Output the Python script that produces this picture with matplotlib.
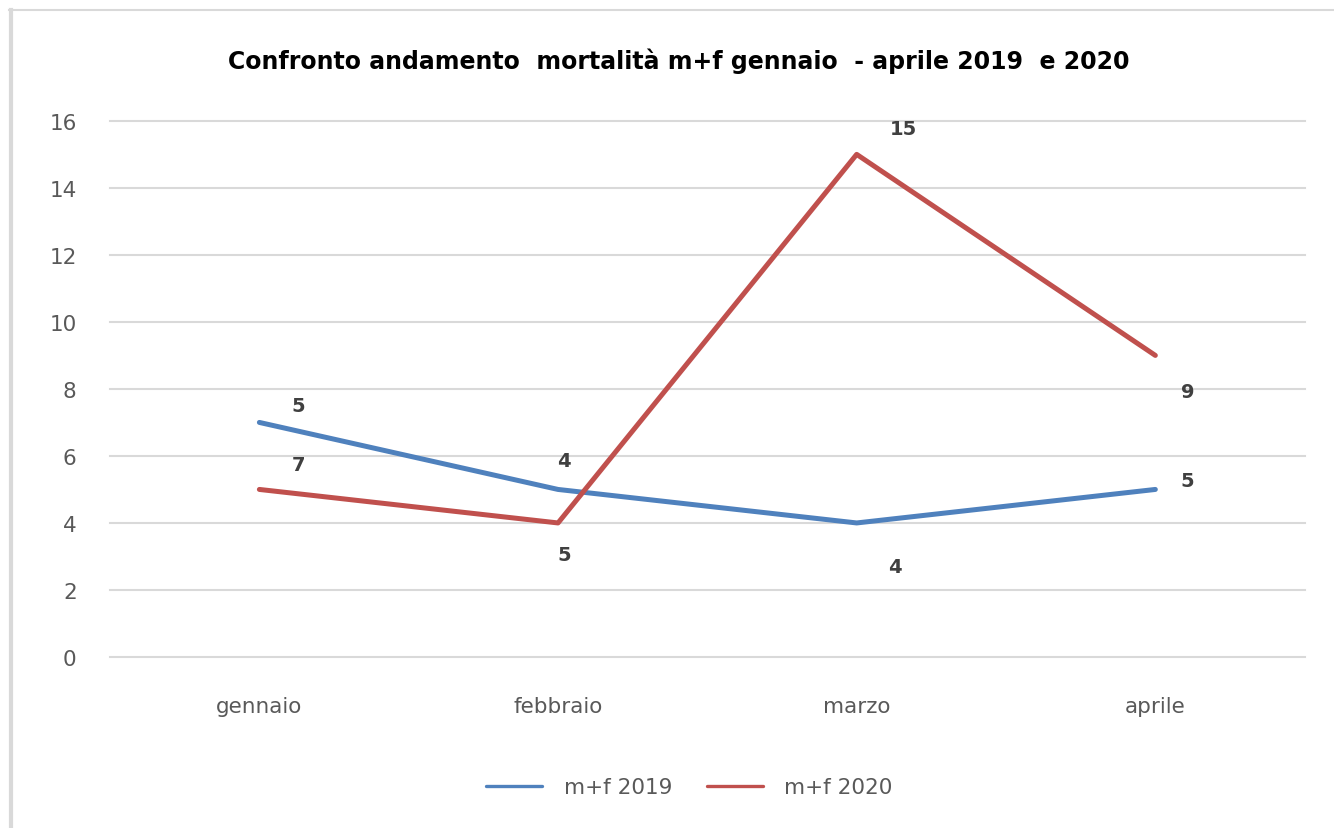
import matplotlib.pyplot as plt
from matplotlib.lines import Line2D

mesi = ["gennaio", "febbraio", "marzo", "aprile"]
mf_2019 = [7, 5, 4, 5]
mf_2020 = [5, 4, 15, 9]
# etichette dati come compaiono nel grafico originale
etich_2019 = ["5", "4", "4", "5"]
etich_2020 = ["7", "5", "15", "9"]
y_ticks = [0, 2, 4, 6, 8, 10, 12, 14, 16]

blu = "#4f81bd"
rosso = "#c0504d"
grigio_testo = "#595959"

fig = plt.figure(figsize=(13.34, 8.29), dpi=100)
ax = fig.add_axes([0.0825, 0.2063, 0.8955, 0.6467])

x = range(len(mesi))
ax.plot(x, mf_2019, color=blu, linewidth=3.6, solid_capstyle="round", label="m+f 2019")
ax.plot(x, mf_2020, color=rosso, linewidth=3.6, solid_capstyle="round", label="m+f 2020")

# spostamenti delle etichette in pixel
off_2019 = [(39, 17), (6, 29), (38, -44), (32, 9)]
off_2020 = [(39, 25), (6, -32), (47, 26), (32, -36)]
for i in x:
    ax.annotate(etich_2019[i], (i, mf_2019[i]), xytext=off_2019[i], textcoords="offset pixels",
                ha="center", va="center", fontsize=14, fontweight="bold", color="#404040")
    ax.annotate(etich_2020[i], (i, mf_2020[i]), xytext=off_2020[i], textcoords="offset pixels",
                ha="center", va="center", fontsize=14, fontweight="bold", color="#404040")

ax.set_xlim(-0.5, 3.5)
ax.set_ylim(0, 16)
ax.set_yticks(y_ticks)
ax.set_xticks(list(x))
ax.set_xticklabels(mesi)
ax.grid(axis="y", color="#d9d9d9", linewidth=1.5)
for gl in ax.get_ygridlines():
    gl.set_clip_on(False)
ax.set_axisbelow(True)
for s in ax.spines.values():
    s.set_visible(False)
ax.tick_params(length=0, labelsize=15.5, labelcolor=grigio_testo)
ax.tick_params(axis="y", pad=24)
ax.tick_params(axis="x", pad=28)

fig.text(0.509, 0.926, "Confronto andamento  mortalità m+f gennaio  - aprile 2019  e 2020",
         ha="center", va="center", fontsize=17, fontweight="bold", color="black")

leg = ax.legend(loc="center", bbox_to_anchor=(0.485, -0.243), ncol=2, frameon=False,
                fontsize=15.5, labelcolor=grigio_testo, handlelength=2.6,
                handletextpad=1.0, columnspacing=1.6)
for h in leg.get_lines():
    h.set_linewidth(2.4)

# bordo grigio del riquadro
fig.add_artist(Line2D([0.0083, 0.0083], [0, 0.9865], transform=fig.transFigure, color="#d9d9d9", linewidth=3))
fig.add_artist(Line2D([0.0068, 1], [0.9865, 0.9865], transform=fig.transFigure, color="#d9d9d9", linewidth=1.5))

fig.savefig("out.png", dpi=100)
